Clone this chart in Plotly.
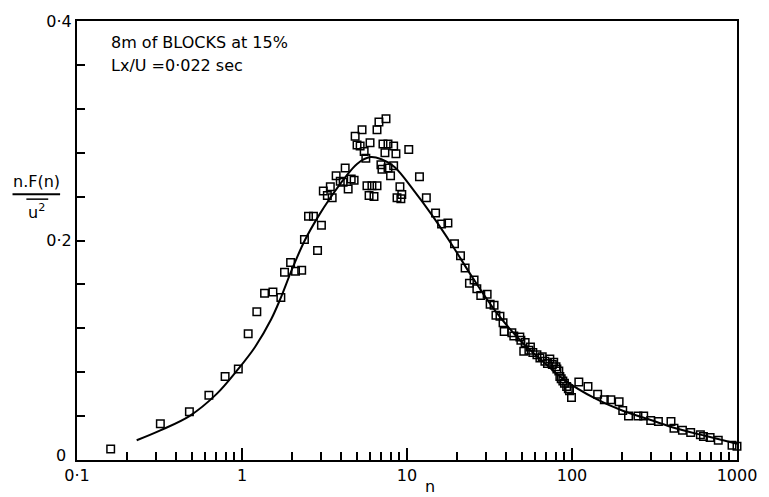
import plotly.graph_objects as go

# Measured spectrum points (frequency n, normalised spectral density n.F(n)/u^2)
n_meas = [0.16, 0.32, 0.48, 0.63, 0.79, 0.95, 1.09, 1.23, 1.37, 1.54, 1.72, 1.81,
          1.97, 2.11, 2.30, 2.39, 2.53, 2.71, 2.87, 3.03, 3.11, 3.29, 3.43, 3.52,
          3.72, 3.94, 4.10, 4.22, 4.40, 4.59, 4.78, 4.85, 4.98, 5.20, 5.34, 5.50,
          5.63, 5.72, 5.89, 5.97, 6.13, 6.31, 6.58, 6.58, 6.76, 6.95, 7.05, 7.15,
          7.35, 7.46, 7.67, 7.67, 7.95, 8.30, 8.30, 8.57, 8.70, 9.06, 9.18, 9.30,
          10.25, 11.9, 13.1, 14.9, 16.2, 17.7, 19.4, 21.1, 22.5, 23.9, 25.5, 26.5,
          28.0, 30.6, 31.9, 33.7, 34.6, 36.6, 38.2, 38.8, 43.2, 44.4, 48.3, 49.0,
          51.0, 52.0, 54.8, 56.0, 57.9, 61.3, 63.9, 66.0, 68.5, 71.0, 73.4, 76.0,
          77.5, 80.0, 81.0, 83.2, 84.4, 86.0, 88.0, 90.0, 92.8, 95.0, 96.6, 99.3,
          110, 125, 143, 157, 172, 193, 203, 220, 251, 272, 300, 334, 398, 415,
          467, 524, 600, 626, 687, 770, 933, 1000]
s_meas = [0.010, 0.033, 0.044, 0.059, 0.076, 0.083, 0.115, 0.135, 0.152, 0.153, 0.148, 0.171,
          0.180, 0.172, 0.173, 0.201, 0.222, 0.222, 0.191, 0.214, 0.245, 0.241, 0.249, 0.239,
          0.259, 0.254, 0.253, 0.266, 0.247, 0.256, 0.255, 0.295, 0.287, 0.286, 0.301, 0.281,
          0.275, 0.250, 0.241, 0.289, 0.250, 0.240, 0.250, 0.301, 0.308, 0.269, 0.265, 0.288,
          0.280, 0.311, 0.288, 0.266, 0.259, 0.286, 0.268, 0.279, 0.239, 0.249, 0.238, 0.242,
          0.283, 0.258, 0.239, 0.225, 0.215, 0.216, 0.197, 0.186, 0.175, 0.161, 0.164, 0.156,
          0.150, 0.151, 0.142, 0.141, 0.132, 0.131, 0.125, 0.117, 0.116, 0.113, 0.112, 0.109,
          0.099, 0.107, 0.100, 0.103, 0.098, 0.096, 0.093, 0.094, 0.090, 0.088, 0.092, 0.087,
          0.089, 0.085, 0.083, 0.081, 0.076, 0.074, 0.072, 0.070, 0.067, 0.065, 0.063, 0.057,
          0.071, 0.067, 0.060, 0.055, 0.055, 0.053, 0.045, 0.040, 0.040, 0.040, 0.036, 0.035,
          0.035, 0.029, 0.027, 0.025, 0.023, 0.0215, 0.0206, 0.018, 0.0135, 0.0126]

# Fitted spectrum curve
n_fit = [0.23, 0.32, 0.48, 0.70, 0.95, 1.2, 1.5, 1.72, 2.0, 2.4, 2.9, 3.4, 4.2, 5.0,
         6.0, 7.0, 8.4, 11.1, 14.0, 18.5, 25, 35, 50, 70, 89, 140, 203, 300, 430, 650, 1000]
s_fit = [0.018, 0.027, 0.040, 0.060, 0.083, 0.103, 0.128, 0.148, 0.173, 0.200, 0.222,
         0.238, 0.257, 0.270, 0.276, 0.274, 0.267, 0.2448, 0.2243, 0.1973, 0.166, 0.134,
         0.107, 0.087, 0.0735, 0.0556, 0.0449, 0.0364, 0.0287, 0.0218, 0.0148]

# Axis ticks
x_major = [0.1, 1, 10, 100, 1000]
x_major_text = ["0·1", "1", "10", "100", "1000"]
x_minor = [m * d for d in (0.1, 1, 10, 100) for m in range(2, 10)]
y_major = [0.2, 0.4]
y_major_text = ["0·2", "0·4"]
y_minor = [0.04, 0.08, 0.12, 0.16, 0.24, 0.28, 0.32, 0.36]

FONT = "DejaVu Sans, Liberation Sans, sans-serif"

fig = go.Figure()
fig.add_trace(go.Scatter(
    x=n_fit, y=s_fit, mode="lines", line=dict(color="black", width=2, shape="spline"),
    hoverinfo="skip"))
fig.add_trace(go.Scatter(
    x=n_meas, y=s_meas, mode="markers",
    marker=dict(symbol="square-open", size=7.5, color="black", line=dict(width=1.5, color="black")),
    cliponaxis=False))

fig.update_layout(
    width=769, height=497,
    margin=dict(l=77, r=27, t=16, b=35),
    paper_bgcolor="white", plot_bgcolor="white",
    showlegend=False,
    font=dict(family=FONT, size=16, color="black"),
    xaxis=dict(
        type="log", range=[-1, 3],
        tickvals=x_major, ticktext=x_major_text,
        ticks="inside", ticklen=12, tickwidth=1.5, tickcolor="black",
        minor=dict(tickvals=x_minor, ticks="inside", ticklen=8, tickwidth=1.5, tickcolor="black"),
        showline=True, linecolor="black", linewidth=2, mirror=True,
        showgrid=False, zeroline=False,
    ),
    yaxis=dict(
        range=[0, 0.4],
        tickvals=y_major, ticktext=y_major_text,
        ticks="inside", ticklen=8, tickwidth=1.5, tickcolor="black",
        minor=dict(tickvals=y_minor, ticks="inside", ticklen=8, tickwidth=1.5, tickcolor="black"),
        showline=True, linecolor="black", linewidth=2, mirror=True,
        showgrid=False, zeroline=False,
    ),
)

# Origin label for the y axis
fig.add_annotation(xref="paper", yref="paper", x=-0.0135, y=0.0110, xanchor="right", yanchor="middle",
                   text="0", showarrow=False, font=dict(family=FONT, size=16))

# Case description
fig.add_annotation(xref="paper", yref="paper", x=0.048, y=0.951, xanchor="left", yanchor="middle",
                   text="8m of BLOCKS at 15%", showarrow=False, font=dict(family=FONT, size=16))
fig.add_annotation(xref="paper", yref="paper", x=0.048, y=0.899, xanchor="left", yanchor="middle",
                   text="Lx/U =0·022 sec", showarrow=False, font=dict(family=FONT, size=16))

# Y-axis title written as a fraction: n.F(n) over u-squared with overbar
fig.add_annotation(xref="paper", yref="paper", x=-0.0617, y=0.6345, xanchor="center", yanchor="middle",
                   text="n.F(n)", showarrow=False, font=dict(family=FONT, size=16))
fig.add_shape(type="line", xref="paper", yref="paper", x0=-0.0977, x1=-0.0256, y0=0.6054, y1=0.6054,
              line=dict(color="black", width=1.8))
fig.add_shape(type="line", xref="paper", yref="paper", x0=-0.0767, x1=-0.0436, y0=0.5942, y1=0.5942,
              line=dict(color="black", width=1.5))
fig.add_annotation(xref="paper", yref="paper", x=-0.0617, y=0.567, xanchor="center", yanchor="middle",
                   text="u<sup>2</sup>", showarrow=False, font=dict(family=FONT, size=16))

# X-axis title
fig.add_annotation(xref="paper", yref="paper", x=0.535, y=-0.0605, xanchor="center", yanchor="middle",
                   text="n", showarrow=False, borderpad=0, font=dict(family=FONT, size=16))

fig.write_html("out.html")
